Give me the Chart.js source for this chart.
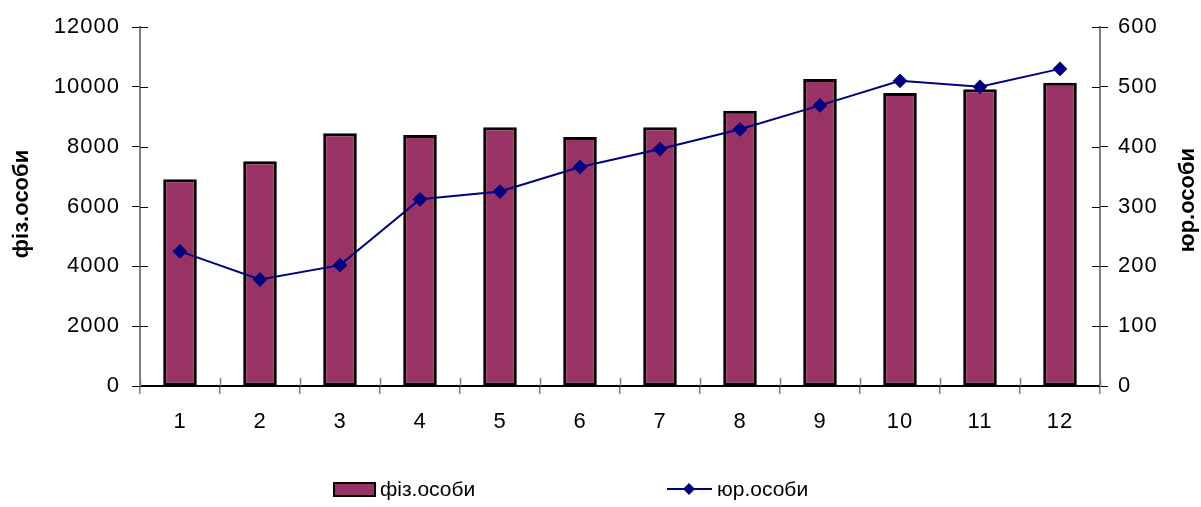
<!DOCTYPE html>
<html>
<head>
<meta charset="utf-8">
<script src="https://cdn.jsdelivr.net/npm/chart.js@4.4.1/dist/chart.umd.min.js"></script>
<style>
  html, body { margin: 0; padding: 0; background: #fff; }
  canvas { display: block; }
</style>
</head>
<body>
<canvas id="chart" width="1201" height="507"></canvas>
<script>
// months 1..12
const months = ["1", "2", "3", "4", "5", "6", "7", "8", "9", "10", "11", "12"];
// individuals (left axis)
const individuals = [6910, 7510, 8450, 8390, 8650, 8320, 8650, 9200, 10260, 9790, 9920, 10140];
// legal entities (right axis)
const legalEntities = [225, 178, 202, 312, 325, 366, 396, 429, 469, 510, 500, 530];

const leftTicks = { min: 0, max: 12000, step: 2000 };
const rightTicks = { min: 0, max: 600, step: 100 };

const leftTitle = "фіз.особи";
const rightTitle = "юр.особи";

const FONT = "'Liberation Sans', Arial, sans-serif";
const BAR_COLOR = "#993366";
const LINE_COLOR = "#000080";

// slightly wider glyph spacing for the tick numbers
const spacing = {
  id: "spacing",
  beforeDraw(chart) {
    chart.ctx.letterSpacing = "1px";
  },
};

// tick marks that cross the axis lines
const crossTicks = {
  id: "crossTicks",
  afterDraw(chart) {
    const ctx = chart.ctx;
    const { left, right, bottom } = chart.chartArea;
    ctx.save();
    ctx.lineWidth = 1.5;
    ctx.strokeStyle = "#808080";
    for (let i = 0; i <= months.length; i++) {
      const px = Math.round(left + (right - left) * i / months.length) + 0.5;
      ctx.beginPath();
      ctx.moveTo(px, bottom - 8);
      ctx.lineTo(px, bottom);
      ctx.stroke();
    }
    ctx.strokeStyle = "#000";
    ctx.lineWidth = 1;
    chart.scales.y.ticks.forEach((t) => {
      const py = Math.round(chart.scales.y.getPixelForValue(t.value)) + 0.5;
      ctx.beginPath();
      ctx.moveTo(left, py);
      ctx.lineTo(left + 8, py);
      ctx.stroke();
    });
    chart.scales.y1.ticks.forEach((t) => {
      const py = Math.round(chart.scales.y1.getPixelForValue(t.value)) + 0.5;
      ctx.beginPath();
      ctx.moveTo(right - 8, py);
      ctx.lineTo(right, py);
      ctx.stroke();
    });
    ctx.restore();
  },
};

// axis titles (both read bottom to top) and the legend row
const labelsPlugin = {
  id: "labelsPlugin",
  afterDraw(chart) {
    const ctx = chart.ctx;
    ctx.save();
    ctx.fillStyle = "#000";
    ctx.font = "bold 22px " + FONT;
    ctx.textAlign = "center";
    ctx.textBaseline = "middle";
    ctx.letterSpacing = "0px";

    ctx.save();
    ctx.translate(22, 204);
    ctx.rotate(-Math.PI / 2);
    ctx.fillText(leftTitle, 0, 0);
    ctx.restore();

    ctx.save();
    ctx.translate(1188, 200);
    ctx.rotate(-Math.PI / 2);
    ctx.fillText(rightTitle, 0, 0);
    ctx.restore();

    // legend
    const ly = 489;
    const barSet = chart.data.datasets[1];
    const lineSet = chart.data.datasets[0];
    ctx.font = "21px " + FONT;
    ctx.textAlign = "left";

    ctx.fillStyle = BAR_COLOR;
    ctx.fillRect(334, ly - 6, 41, 13);
    ctx.strokeStyle = "#000";
    ctx.lineWidth = 2;
    ctx.strokeRect(334, ly - 6, 41, 13);
    ctx.fillStyle = "#000";
    ctx.fillText(barSet.label, 380, ly + 1);

    ctx.strokeStyle = LINE_COLOR;
    ctx.lineWidth = 2;
    ctx.beginPath();
    ctx.moveTo(667, ly);
    ctx.lineTo(712, ly);
    ctx.stroke();
    ctx.fillStyle = LINE_COLOR;
    ctx.beginPath();
    ctx.moveTo(689, ly - 6);
    ctx.lineTo(695, ly);
    ctx.lineTo(689, ly + 6);
    ctx.lineTo(683, ly);
    ctx.closePath();
    ctx.fill();
    ctx.fillStyle = "#000";
    ctx.fillText(lineSet.label, 717, ly + 1);
    ctx.restore();
  },
};

const tickFont = { family: FONT, size: 22 };
const plain = (v) => String(v);

new Chart(document.getElementById("chart"), {
  type: "bar",
  data: {
    labels: months,
    datasets: [
      {
        type: "line",
        label: rightTitle,
        data: legalEntities,
        yAxisID: "y1",
        borderColor: LINE_COLOR,
        backgroundColor: LINE_COLOR,
        borderWidth: 2,
        pointStyle: "rectRot",
        pointRadius: 6,
        pointHoverRadius: 6,
        pointBackgroundColor: LINE_COLOR,
        pointBorderColor: LINE_COLOR,
        tension: 0,
        order: 0,
      },
      {
        type: "bar",
        label: leftTitle,
        data: individuals,
        yAxisID: "y",
        backgroundColor: BAR_COLOR,
        borderColor: "#000",
        borderWidth: 3,
        borderSkipped: false,
        barPercentage: 0.42,
        categoryPercentage: 1,
        order: 1,
      },
    ],
  },
  options: {
    responsive: false,
    devicePixelRatio: 1,
    animation: false,
    layout: { padding: { top: 27, left: 0, right: 0, bottom: 0 } },
    plugins: {
      legend: { display: false },
      tooltip: { enabled: false },
    },
    scales: {
      x: {
        grid: { offset: true, drawOnChartArea: false, tickLength: 8, color: "#808080", lineWidth: 1.5 },
        border: { color: "#000", width: 2 },
        ticks: { font: tickFont, color: "#000", padding: 15, maxRotation: 0 },
        afterFit: (s) => { s.height = 121; },
      },
      y: {
        position: "left",
        min: leftTicks.min,
        max: leftTicks.max,
        grid: { drawOnChartArea: false, tickLength: 8, color: "#000" },
        border: { color: "#808080", width: 2 },
        ticks: { stepSize: leftTicks.step, font: tickFont, color: "#000", padding: 12, callback: plain },
        afterFit: (s) => { s.width = 140; },
      },
      y1: {
        position: "right",
        min: rightTicks.min,
        max: rightTicks.max,
        grid: { drawOnChartArea: false, tickLength: 8, color: "#000" },
        border: { color: "#808080", width: 2 },
        ticks: { stepSize: rightTicks.step, font: tickFont, color: "#000", padding: 10, callback: plain },
        afterFit: (s) => { s.width = 101; },
      },
    },
  },
  plugins: [spacing, crossTicks, labelsPlugin],
});
</script>
</body>
</html>
